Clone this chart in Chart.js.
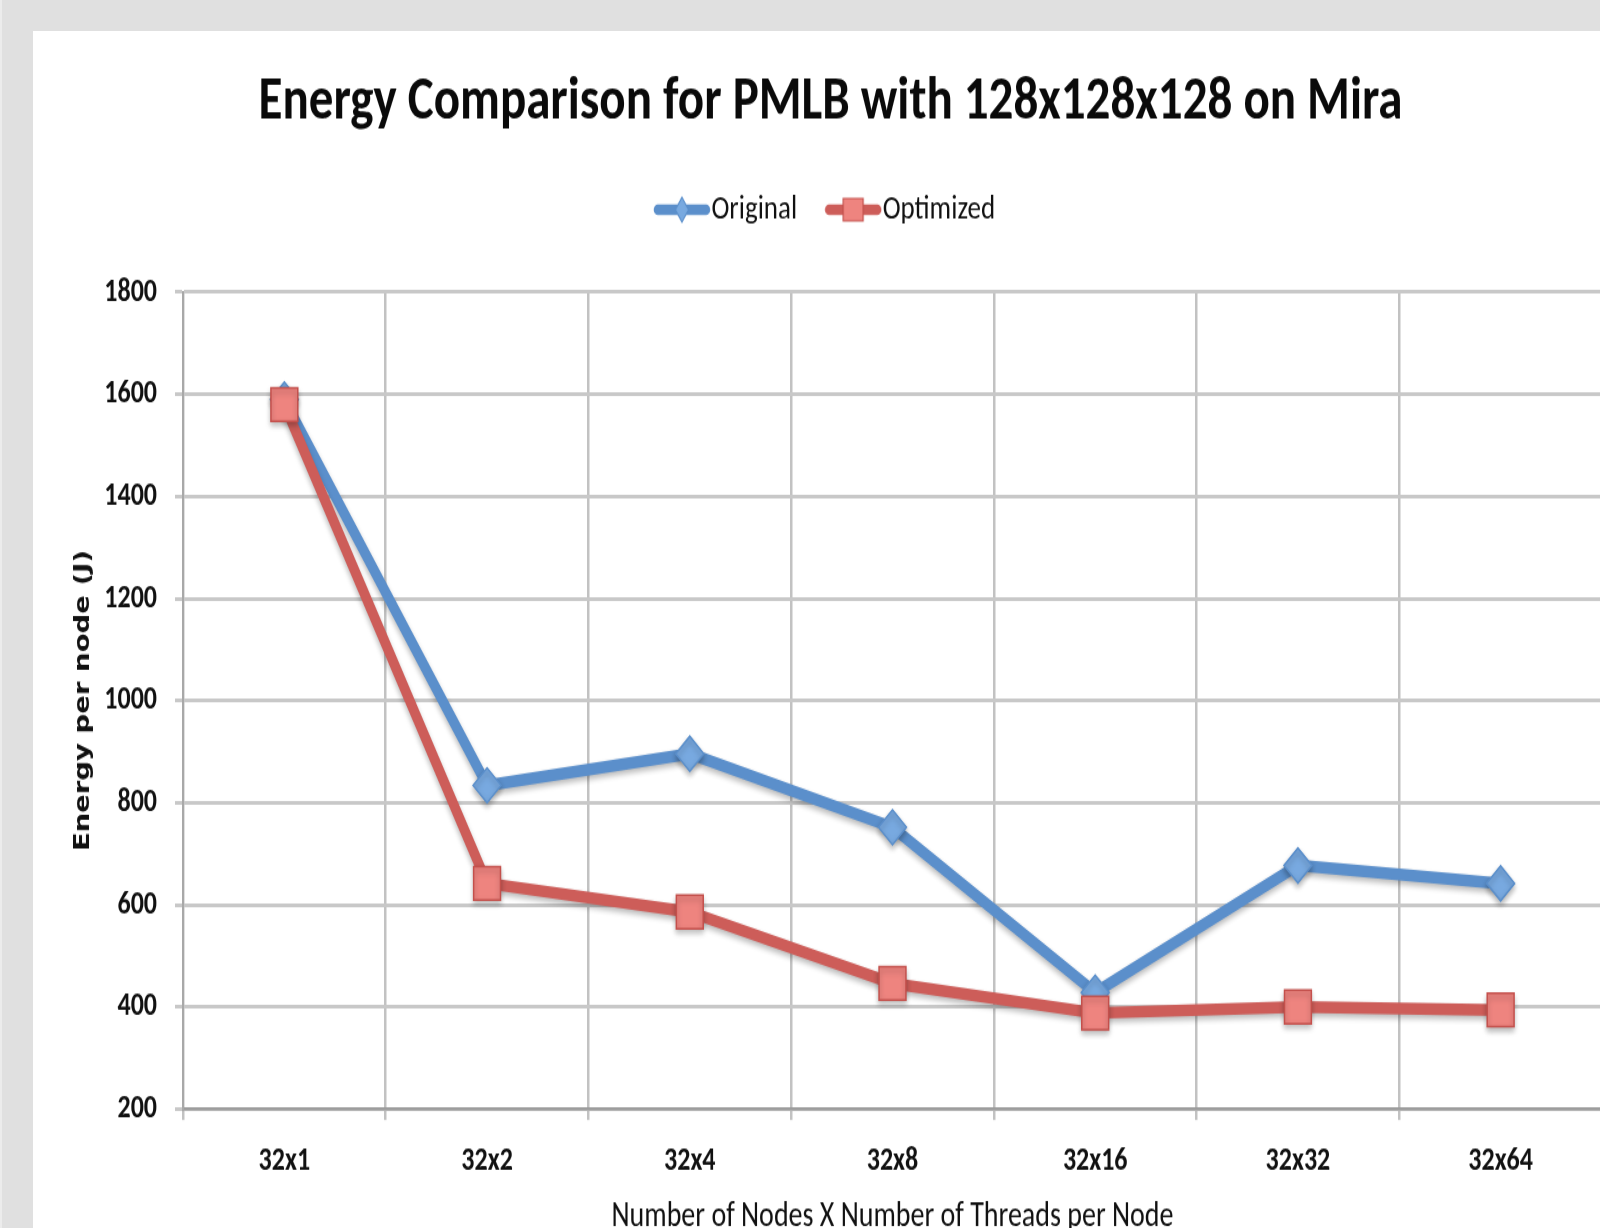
<!DOCTYPE html>
<html><head><meta charset="utf-8">
<script src="https://cdn.jsdelivr.net/npm/chart.js@4.4.1/dist/chart.umd.min.js"></script>
<style>
html,body{margin:0;padding:0;width:1600px;height:1228px;overflow:hidden;background:#e0e0e0;}
body{background:linear-gradient(to right,#ececec 2px,#e0e0e0 2px);}
#wrap{position:absolute;left:33px;top:31px;width:1620px;height:1210px;background:#fff;}
canvas{display:block;}
</style></head><body>
<div id="wrap"><canvas id="c" width="1620" height="968" style="width:1620px;height:1210px"></canvas></div>
<script>
const categories = ['32x1', '32x2', '32x4', '32x8', '32x16', '32x32', '32x64'];
const originalValues = [1590, 834, 896, 752, 428, 677, 642];
const optimizedValues = [1580, 642, 586, 446, 388, 400, 394];
const seriesNames = ['Original', 'Optimized'];
const yTickValues = [200, 400, 600, 800, 1000, 1200, 1400, 1600, 1800];
const chartTitle = 'Energy Comparison for PMLB with 128x128x128 on Mira';
const xTitle = 'Number of Nodes X Number of Threads per Node';
const yTitle = 'Energy per node (J)';

const CAL = 'Carlito, "Liberation Sans", sans-serif';
const BLUE = '#5b8fcb', BLUE_FILL = '#78a9e0';
const RED = '#cd5d59', RED_FILL = '#ee847f', RED_EDGE = '#c4504c';

function makeIcon(color, fill, edge, kind) {
  const c = document.createElement('canvas');
  c.width = 58; c.height = 26;
  const g = c.getContext('2d');
  g.strokeStyle = color; g.lineWidth = 8.5; g.lineCap = 'round';
  g.beginPath(); g.moveTo(5, 13); g.lineTo(53, 13); g.stroke();
  g.fillStyle = fill; g.strokeStyle = edge; g.lineWidth = 1.2;
  g.beginPath();
  if (kind === 'diamond') {
    g.moveTo(29, 3); g.lineTo(35.5, 13); g.lineTo(29, 23); g.lineTo(22.5, 13); g.closePath();
  } else {
    g.rect(19, 4, 20, 18);
  }
  g.fill(); g.stroke();
  return c;
}
const legendIcons = [makeIcon(BLUE, BLUE_FILL, BLUE, 'diamond'), makeIcon(RED, RED_FILL, RED_EDGE, 'square')];

const shadowPlugin = {
  id: 'shadow',
  beforeDatasetsDraw(chart) {
    const ctx = chart.ctx; ctx.save();
    ctx.shadowColor = 'rgba(0,0,0,0.28)'; ctx.shadowBlur = 5; ctx.shadowOffsetY = 3;
  },
  afterDatasetsDraw(chart) { chart.ctx.restore(); }
};

new Chart(document.getElementById('c'), {
  type: 'line',
  data: {
    labels: categories,
    datasets: [
      { label: seriesNames[0], data: originalValues, order: 2, yAxisID: 'y',
        borderColor: BLUE, borderWidth: 9.5, tension: 0, borderJoinStyle: 'round', borderCapStyle: 'round',
        pointStyle: 'rectRot', pointRadius: 14, pointHoverRadius: 14,
        pointBackgroundColor: BLUE_FILL, pointBorderColor: BLUE, pointBorderWidth: 1.5 },
      { label: seriesNames[1], data: optimizedValues, order: 1, yAxisID: 'y',
        borderColor: RED, borderWidth: 9.5, tension: 0, borderJoinStyle: 'round', borderCapStyle: 'round',
        pointStyle: 'rect', pointRadius: 19, pointHoverRadius: 19,
        pointBackgroundColor: RED_FILL, pointBorderColor: RED_EDGE, pointBorderWidth: 1.5 }
    ]
  },
  options: {
    responsive: false, animation: false, devicePixelRatio: 1,
    layout: { padding: { left: 0, right: 25, top: 0, bottom: 0 } },
    plugins: {
      tooltip: { enabled: false },
      title: { display: true, text: chartTitle, color: '#0a0a0a',
        font: { family: CAL, size: 49, weight: 'bold', lineHeight: 1.2 },
        padding: { top: 28.2, bottom: 2.4 } },
      subtitle: { display: true, text: '', weight: 500,
        font: { size: 10, lineHeight: 1 }, padding: { top: 32.6, bottom: 0 } },
      legend: { display: true, position: 'top',
        labels: { usePointStyle: true, pointStyleWidth: 32, padding: 40, color: '#111',
          font: { family: CAL, size: 27 },
          generateLabels: () => seriesNames.map((n, i) => ({
            text: n, pointStyle: legendIcons[i], fillStyle: 'rgba(0,0,0,0)',
            strokeStyle: 'rgba(0,0,0,0)', lineWidth: 0, hidden: false, datasetIndex: i, fontColor: '#111'
          })) } }
    },
    scales: {
      x: {
        offset: true,
        grid: { color: '#c2c2c2', lineWidth: 2.5, tickLength: 8.8, offset: true },
        border: { color: '#9c9c9c', width: 2.6 },
        ticks: { color: '#111', padding: 17.2, font: { family: CAL, size: 26, weight: 'bold', lineHeight: 1.2 } },
        title: { display: true, text: xTitle, color: '#111',
          font: { family: CAL, size: 28, lineHeight: 1.2 }, padding: { top: 0, bottom: 2.4 } },
        afterFit(scale) { scale.height = 968 - 862.4; }
      },
      y: {
        min: 200, max: 1800,
        afterBuildTicks(scale) { scale.ticks = yTickValues.map(v => ({ value: v })); },
        grid: { color: '#c8c8c8', lineWidth: 3, tickLength: 8 },
        border: { color: '#a8a8a8', width: 2 },
        ticks: { color: '#111', padding: 18, callback: (v) => String(v),
          font: { family: CAL, size: 26, weight: 'bold' } },
        title: { display: true, text: yTitle, color: '#111',
          font: { family: '"DejaVu Sans", Verdana, sans-serif', size: 22, weight: 'bold', lineHeight: 1.2 },
          padding: { top: 36.8, bottom: 0 } },
        afterFit(scale) { scale.width = 150; }
      },
      yRight: {
        position: 'right', display: true, min: 200, max: 1800,
        grid: { display: false, drawTicks: false }, border: { display: false },
        ticks: { display: false }, title: { display: false },
        afterFit(scale) { scale.width = 26; }
      }
    }
  },
  plugins: [shadowPlugin]
});
</script>
</body></html>
